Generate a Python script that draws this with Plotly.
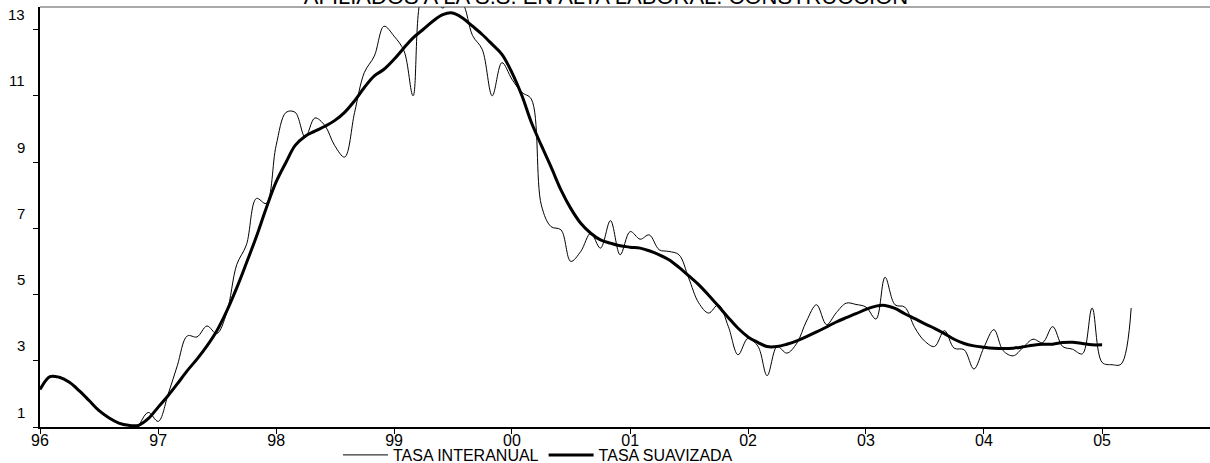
import pandas as pd
import plotly.graph_objects as go

# ---- data (monthly) ----
title_text = "AFILIADOS A LA S.S. EN ALTA LABORAL. CONSTRUCCION"
series_names = ["TASA INTERANUAL", "TASA SUAVIZADA"]

interanual_start = "1996-11-01"
tasa_interanual = [
    1.00, 1.44,                                                             # 1996 Nov-Dec
    1.17, 2.00, 2.85, 3.75, 3.72, 4.05, 3.82, 4.45, 5.90, 6.50, 7.90, 7.75,  # 1997
    9.50, 10.50, 10.50, 9.75, 10.33, 10.10, 9.50, 9.15, 10.50, 11.70, 12.20, 13.10,  # 1998
    12.80, 12.35, 11.00, 14.10, 14.00, 13.65, 14.00, 13.80, 12.82, 12.40, 11.00, 12.00,  # 1999
    11.50, 11.10, 10.90, 7.70, 7.05, 6.95, 6.00, 6.30, 6.85, 6.40, 7.23, 6.20,  # 2000
    6.90, 6.67, 6.80, 6.35, 6.30, 6.20, 5.50, 4.75, 4.44, 4.69, 4.03, 3.18,  # 2001
    3.68, 3.43, 2.55, 3.43, 3.23, 3.53, 4.20, 4.69, 4.09, 4.45, 4.74, 4.70,  # 2002
    4.62, 4.26, 5.52, 4.69, 4.62, 4.00, 3.60, 3.43, 3.91, 3.38, 3.33, 2.75,  # 2003
    3.40, 3.94, 3.30, 3.15, 3.40, 3.65, 3.55, 4.03, 3.43, 3.35, 3.21, 4.59,  # 2004
    2.95, 2.88, 2.90, 4.59,                                                 # 2005 Jan-Apr
]

suavizada_start = "1996-01-01"
tasa_suavizada = [
    2.13, 2.52, 2.50, 2.35, 2.10, 1.80, 1.50, 1.28, 1.12, 1.05, 1.05, 1.25,  # 1996
    1.60, 1.95, 2.30, 2.70, 3.05, 3.45, 3.90, 4.50, 5.20, 5.95, 6.75, 7.60,  # 1997
    8.40, 9.00, 9.50, 9.78, 9.93, 10.08, 10.25, 10.50, 10.85, 11.25, 11.60, 11.80,  # 1998
    12.10, 12.45, 12.75, 13.00, 13.25, 13.45, 13.50, 13.35, 13.10, 12.85, 12.55, 12.25,  # 1999
    11.70, 11.00, 10.20, 9.50, 8.85, 8.15, 7.60, 7.15, 6.85, 6.65, 6.55, 6.47,  # 2000
    6.43, 6.40, 6.32, 6.20, 6.05, 5.82, 5.57, 5.30, 4.98, 4.65, 4.30, 3.98,  # 2001
    3.72, 3.55, 3.43, 3.43, 3.50, 3.60, 3.73, 3.87, 4.02, 4.17, 4.30, 4.42,  # 2002
    4.55, 4.65, 4.67, 4.58, 4.42, 4.27, 4.12, 3.98, 3.82, 3.65, 3.52, 3.45,  # 2003
    3.41, 3.38, 3.37, 3.38, 3.42, 3.47, 3.50, 3.50, 3.55, 3.56, 3.52, 3.48,  # 2004
    3.48,                                                                   # 2005 Jan
]

y_tick_values = [1, 3, 5, 7, 9, 11, 13]
y_tick_labels = ["1", "3", "5", "7", "9", "11", "13"]
x_range = ["1996-01-01", "2005-12-01"]
y_range = [1.0, 13.68]

dates_inter = pd.date_range(interanual_start, periods=len(tasa_interanual), freq="MS")
dates_suav = pd.date_range(suavizada_start, periods=len(tasa_suavizada), freq="MS")

FONT = "Liberation Sans, Arial, sans-serif"

fig = go.Figure()
fig.add_trace(go.Scatter(
    x=dates_inter, y=tasa_interanual, mode="lines", name=series_names[0],
    line=dict(color="black", width=1, shape="spline", smoothing=1.0),
))
fig.add_trace(go.Scatter(
    x=dates_suav, y=tasa_suavizada, mode="lines", name=series_names[1],
    line=dict(color="black", width=3, shape="spline", smoothing=1.0),
))

fig.update_layout(
    template="none",
    width=1210, height=463,
    margin=dict(l=40, r=0, t=7, b=36, autoexpand=False),
    paper_bgcolor="white", plot_bgcolor="white",
    font=dict(family=FONT, color="black", size=15),
    showlegend=True,
    legend=dict(
        orientation="h", xref="container", x=538 / 1210, xanchor="center",
        yref="container", y=(463 - 455) / 463, yanchor="middle",
        font=dict(size=16, family=FONT), itemwidth=45, tracegroupgap=0,
        bgcolor="rgba(0,0,0,0)", borderwidth=0,
    ),
    title=dict(
        text=title_text, x=606 / 1210, xanchor="center", xref="container",
        y=1 - 4 / 463, yref="container", yanchor="bottom",
        font=dict(size=22, family=FONT, color="black"),
    ),
)

fig.update_xaxes(
    type="date", range=x_range, tick0="1996-01-01", dtick="M12", tickformat="%y",
    showgrid=False, zeroline=False, automargin=False,
    showline=True, linecolor="black", linewidth=2,
    ticks="outside", ticklen=5, tickwidth=1, tickcolor="black",
    ticklabelstandoff=-7,
    tickfont=dict(size=16, family=FONT),
)
fig.update_yaxes(
    range=y_range, tickvals=y_tick_values, showticklabels=False,
    showgrid=False, zeroline=False, automargin=False,
    showline=True, linecolor="black", linewidth=2,
    ticks="outside", ticklen=5, tickwidth=1, tickcolor="black",
)

# top frame line
fig.add_shape(type="line", xref="paper", yref="paper", x0=0, x1=1, y0=1, y1=1,
              line=dict(color="#555555", width=1))

# y tick labels (drawn slightly above their ticks, as in the reference)
for v, lab in zip(y_tick_values, y_tick_labels):
    fig.add_annotation(
        x=0, xref="paper", y=v, yref="y", text=lab, showarrow=False,
        xanchor="right", yanchor="middle", xshift=-13, yshift=15,
        font=dict(size=15, family=FONT, color="black"),
    )

fig.write_html(
    "out.html",
    config={"displayModeBar": False},
    post_script="document.body.style.margin='0';document.body.style.overflow='hidden';",
)
